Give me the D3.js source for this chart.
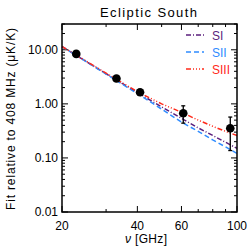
<!DOCTYPE html>
<html>
<head>
<meta charset="utf-8">
<script src="https://cdn.jsdelivr.net/npm/d3@7"></script>
<style>
  body { margin: 0; background: #fff; }
  svg { display: block; font-family: "Liberation Sans", Arial, sans-serif; }
</style>
</head>
<body>
<svg width="249" height="249"></svg>
<script>
const width = 249, height = 249;

// measured points (GHz, value, err low, err high)
const pointFreq = [22.8, 33, 41, 61, 94];
const pointVal  = [8.4, 2.95, 1.64, 0.67, 0.355];
const pointLo   = [8.4, 2.95, 1.64, 0.44, 0.137];
const pointHi   = [8.4, 2.95, 1.64, 0.92, 0.57];

// model curves
const curveFreq = [20, 30, 40, 50, 60, 70, 80, 90, 100];
const siVals   = [11.5, 3.6, 1.62, 0.88, 0.54, 0.36, 0.26, 0.195, 0.15];
const siiVals  = [11.5, 3.55, 1.55, 0.80, 0.46, 0.31, 0.215, 0.16, 0.121];
const siiiVals = [11.5, 3.7, 1.68, 1.0, 0.70, 0.50, 0.385, 0.31, 0.26];

const seriesNames = ["SI", "SII", "SIII"];
const seriesColors = ["#5b1f7d", "#2f8cff", "#ff2a1a"];
const seriesDash = ["5,2,1,2", "5,3", "5,2,1,2,1,2,1,2"];

const xTickLabels = [20, 40, 60, 100];
const yTickLabels = [0.01, 0.1, 1, 10];

const m = { left: 62, right: 12, top: 24, bottom: 37 };

const svg = d3.select("svg");

const x = d3.scaleLog().domain([20, 100]).range([m.left, width - m.right]);
const y = d3.scaleLog().domain([0.01, 30]).range([height - m.bottom, m.top]);

const x0 = m.left, x1 = width - m.right, y0 = height - m.bottom, y1 = m.top;

const ticks = svg.append("g").attr("stroke", "#000").attr("stroke-width", 1);

// x ticks (bottom and top, inward)
const xMinor = [30, 50, 70, 80, 90];
xTickLabels.concat(xMinor).forEach(v => {
  const len = xTickLabels.includes(v) ? 6 : 3;
  ticks.append("line").attr("x1", x(v)).attr("x2", x(v)).attr("y1", y0).attr("y2", y0 - len);
  ticks.append("line").attr("x1", x(v)).attr("x2", x(v)).attr("y1", y1).attr("y2", y1 + len);
});

// y ticks (left and right, inward)
const yAll = [];
for (let e = -2; e <= 1; e++) {
  for (let k = 1; k <= 9; k++) {
    const v = k * Math.pow(10, e);
    if (v <= 30) yAll.push({ v: v, major: k === 1 });
  }
}
yAll.forEach(t => {
  const len = t.major ? 6 : 3;
  ticks.append("line").attr("x1", x0).attr("x2", x0 + len).attr("y1", y(t.v)).attr("y2", y(t.v));
  ticks.append("line").attr("x1", x1).attr("x2", x1 - len).attr("y1", y(t.v)).attr("y2", y(t.v));
});

// model lines
const line = d3.line().x(d => x(d[0])).y(d => y(d[1]));
[siVals, siiVals, siiiVals].forEach((vals, i) => {
  svg.append("path")
    .datum(curveFreq.map((f, j) => [f, vals[j]]))
    .attr("d", line)
    .attr("fill", "none")
    .attr("stroke", seriesColors[i])
    .attr("stroke-width", 1.5)
    .attr("stroke-dasharray", seriesDash[i]);
});

// error bars and points
pointFreq.forEach((f, i) => {
  if (pointHi[i] !== pointLo[i]) {
    svg.append("line").attr("x1", x(f)).attr("x2", x(f))
      .attr("y1", y(pointLo[i])).attr("y2", y(pointHi[i]))
      .attr("stroke", "#000").attr("stroke-width", 1.3);
    [pointLo[i], pointHi[i]].forEach(v => {
      svg.append("line").attr("x1", x(f) - 2).attr("x2", x(f) + 2)
        .attr("y1", y(v)).attr("y2", y(v))
        .attr("stroke", "#000").attr("stroke-width", 1.3);
    });
  }
  svg.append("circle").attr("cx", x(f)).attr("cy", y(pointVal[i])).attr("r", 4.3).attr("fill", "#000");
});

// frame
svg.append("rect").attr("x", x0).attr("y", y1).attr("width", x1 - x0).attr("height", y0 - y1)
  .attr("fill", "none").attr("stroke", "#000").attr("stroke-width", 1.5);

// tick labels
svg.append("g").selectAll("text").data(xTickLabels).enter().append("text")
  .attr("x", d => x(d)).attr("y", y0 + 18)
  .attr("text-anchor", "middle").attr("font-size", 12)
  .text(d => d);

svg.append("g").selectAll("text").data(yTickLabels).enter().append("text")
  .attr("x", x0 - 4).attr("y", d => y(d) + 4)
  .attr("text-anchor", "end").attr("font-size", 12)
  .text(d => d.toFixed(2));

// axis titles
svg.append("text").attr("x", 146).attr("y", 243)
  .attr("text-anchor", "middle").attr("font-size", 12)
  .attr("textLength", 42).attr("lengthAdjust", "spacing")
  .html("<tspan font-style='italic'>ν</tspan> [GHz]");

svg.append("text")
  .attr("transform", "translate(15," + 119 + ") rotate(-90)")
  .attr("text-anchor", "middle").attr("font-size", 12)
  .attr("textLength", 182).attr("lengthAdjust", "spacing")
  .text("Fit relative to 408 MHz (μK/K)");

svg.append("text").attr("x", 148.5).attr("y", 17)
  .attr("text-anchor", "middle").attr("font-size", 13)
  .attr("textLength", 97).attr("lengthAdjust", "spacing")
  .text("Ecliptic South");

// legend
const legY = [35, 52, 69];
seriesNames.forEach((name, i) => {
  svg.append("line").attr("x1", 186).attr("x2", 204)
    .attr("y1", legY[i]).attr("y2", legY[i])
    .attr("stroke", seriesColors[i]).attr("stroke-width", 1.5)
    .attr("stroke-dasharray", seriesDash[i]);
  svg.append("text").attr("x", 212).attr("y", legY[i] + 4.5)
    .attr("font-size", 12).attr("fill", seriesColors[i])
    .text(name);
});
</script>
</body>
</html>
